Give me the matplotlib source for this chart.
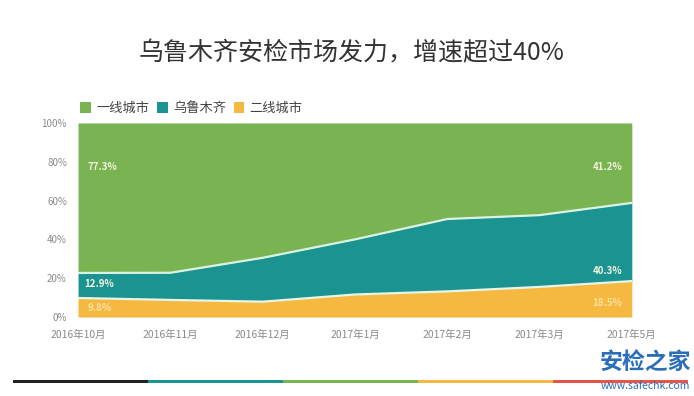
import matplotlib.pyplot as plt
from matplotlib.patches import Rectangle

plt.rcParams['font.family'] = ['Noto Sans CJK SC', 'DejaVu Sans']

# 数据
months = ['2016年10月', '2016年11月', '2016年12月', '2017年1月', '2017年2月', '2017年3月', '2017年5月']
second_tier = [9.8, 8.8, 7.9, 11.6, 13.2, 15.5, 18.5]
urumqi = [12.9, 14.0, 22.6, 28.4, 37.3, 37.0, 40.3]
first_tier = [77.3, 77.2, 69.5, 60.0, 49.5, 47.5, 41.2]
series_names = ['一线城市', '乌鲁木齐', '二线城市']
yticks = [0, 20, 40, 60, 80, 100]

green = '#7ab352'
teal = '#1b9391'
yellow = '#f5b942'

fig = plt.figure(figsize=(6.94, 3.96), dpi=100)
ax = fig.add_axes([0.1124, 0.1995, 0.798, 0.49])

x = list(range(len(months)))
cum1 = second_tier
cum2 = [a + b for a, b in zip(second_tier, urumqi)]
cum3 = [a + b for a, b in zip(cum2, first_tier)]

ax.fill_between(x, 0, cum1, color=yellow, lw=0, label=series_names[2])
ax.fill_between(x, cum1, cum2, color=teal, lw=0, label=series_names[1])
ax.fill_between(x, cum2, cum3, color=green, lw=0, label=series_names[0])
ax.plot(x, cum1, color='#e8f5e6', lw=1.6)
ax.plot(x, cum2, color='#d9f2e2', lw=1.6)

ax.set_xlim(0, len(months) - 1)
ax.set_ylim(0, 100)
ax.set_yticks(yticks)
ax.set_yticklabels([f'{v}%' for v in yticks], color='#8a8a8a', fontsize=7)
ax.set_xticks(x)
ax.set_xticklabels(months, color='#8a8a8a', fontsize=7.5)
ax.tick_params(length=0, pad=8)
ax.tick_params(axis='x', pad=9)
for s in ax.spines.values():
    s.set_visible(False)

# 数值标签
lab = dict(color='#f4f4e0', fontsize=7, fontweight='bold')
ylab = dict(color='#fbe0a0', fontsize=7, fontweight='bold')
ax.text(0.1, 77.3, f'{first_tier[0]}%', ha='left', va='center', **lab)
ax.text(0.07, 17.0, f'{urumqi[0]}%', ha='left', va='center', **lab)
ax.text(0.1, 4.6, f'{second_tier[0]}%', ha='left', va='center', **ylab)
ax.text(5.9, 77.3, f'{first_tier[-1]}%', ha='right', va='center', **lab)
ax.text(5.9, 23.7, f'{urumqi[-1]}%', ha='right', va='center', **lab)
ax.text(5.9, 7.2, f'{second_tier[-1]}%', ha='right', va='center', **ylab)

# 图例
handles, labels = ax.get_legend_handles_labels()
ax.legend(handles[::-1], labels[::-1], loc='lower left', bbox_to_anchor=(-0.01, 1.0),
          ncol=3, frameon=False, fontsize=9.5, handlelength=0.8, handleheight=0.8,
          handletextpad=0.4, columnspacing=0.6, borderaxespad=0.2, labelcolor='#444444')

# 标题
fig.text(0.507, 0.865, '乌鲁木齐安检市场发力，增速超过40%', ha='center', va='center',
         fontsize=18, color='#333333', fontweight='light')

# 底部色条
bar_colors = ['#222222', '#1b9391', '#7ab352', '#f5b942', '#e8534a']
for i, c in enumerate(bar_colors):
    fig.patches.append(Rectangle(((13 + i * 135) / 694, 1 - 383 / 396), 135 / 694, 3 / 396,
                                 transform=fig.transFigure, color=c, lw=0))

# 水印
fig.text(0.93, 1 - 362 / 396, '安检之家', ha='center', va='center', fontsize=16.5,
         fontweight='bold', color='#2a6db8')
fig.text(0.93, 1 - 386 / 396, 'www.safechk.com', ha='center', va='center', fontsize=7.5,
         color='#2a6db8')

fig.savefig('out.png', dpi=100)
